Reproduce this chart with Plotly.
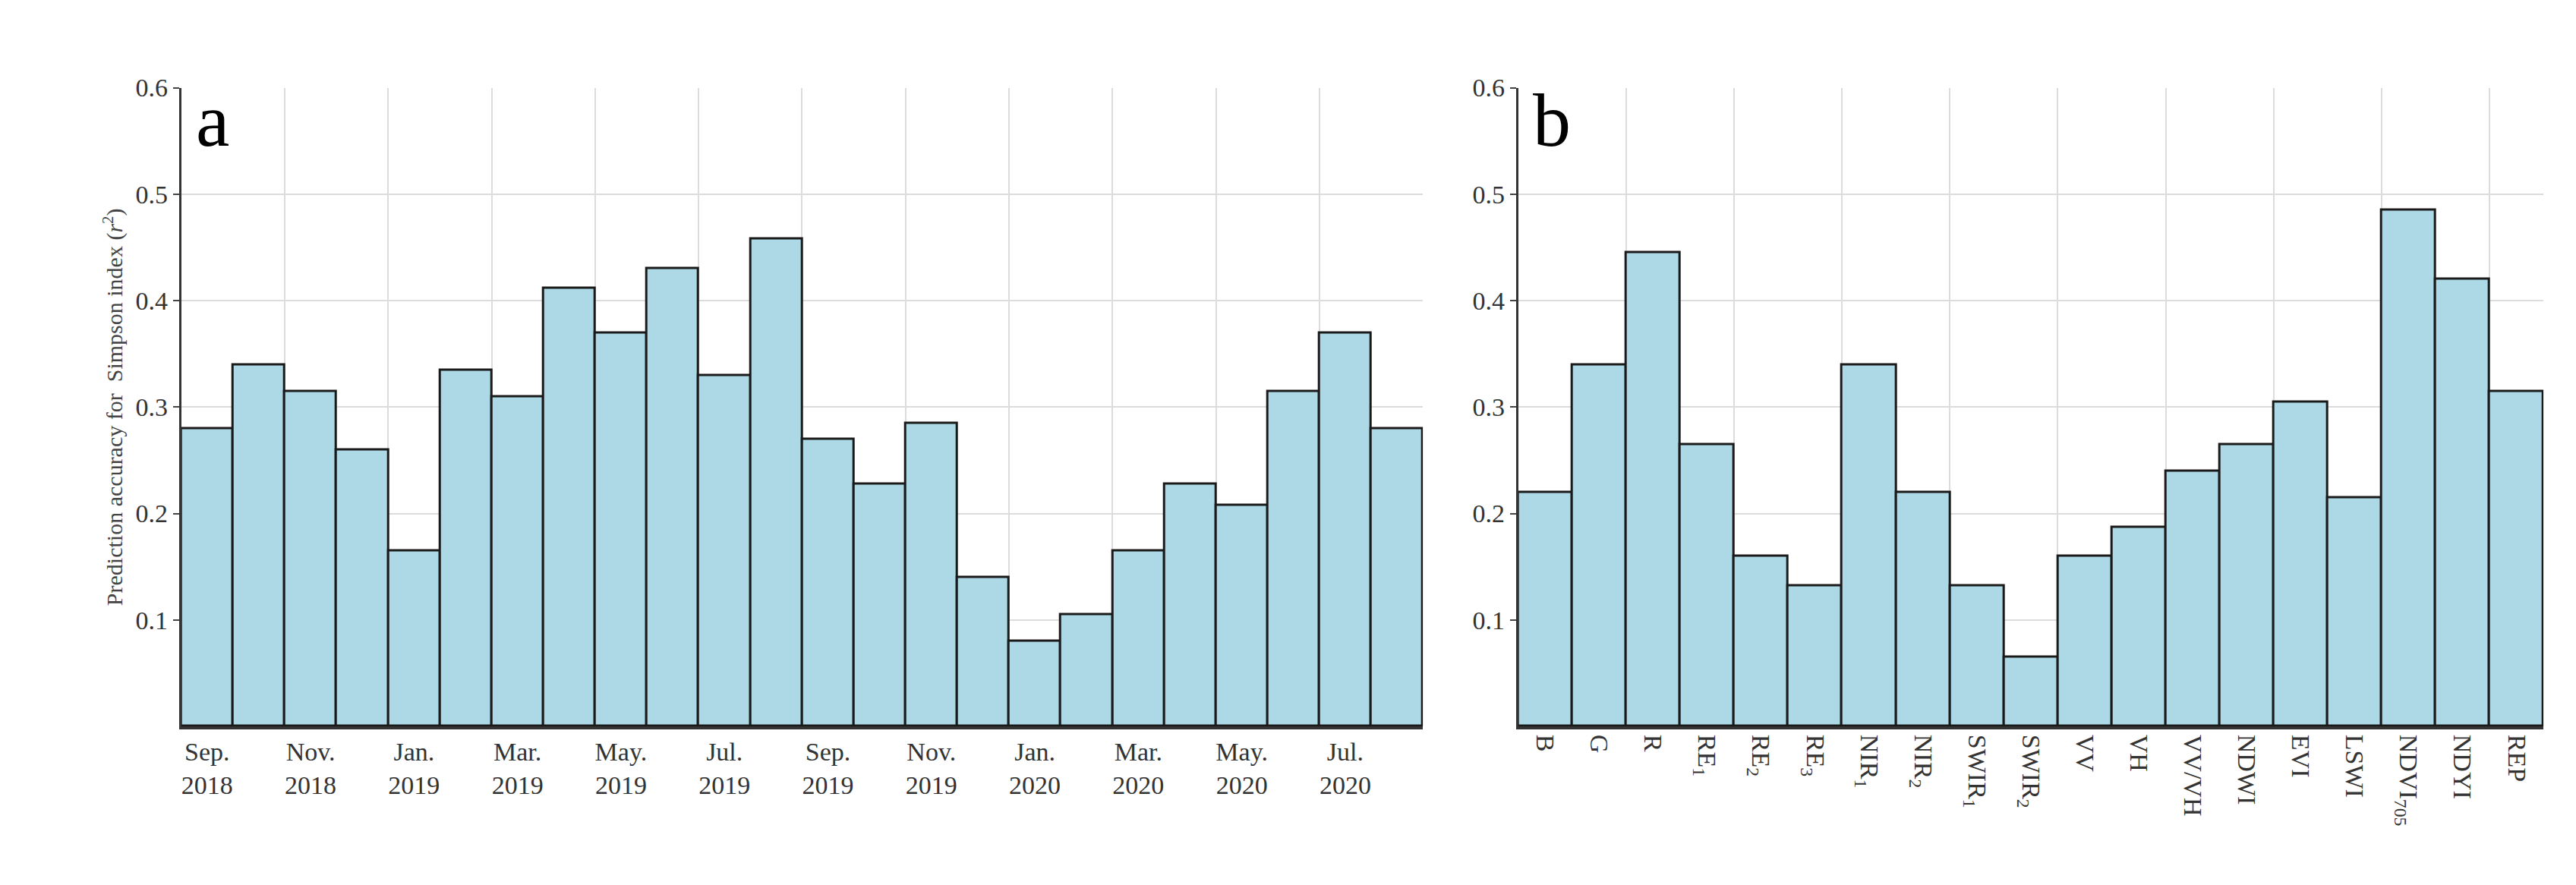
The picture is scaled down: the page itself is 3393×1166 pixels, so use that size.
import plotly.graph_objects as go

months = ["Sep. 2018","Oct. 2018","Nov. 2018","Dec. 2018","Jan. 2019","Feb. 2019","Mar. 2019","Apr. 2019",
          "May. 2019","Jun. 2019","Jul. 2019","Aug. 2019","Sep. 2019","Oct. 2019","Nov. 2019","Dec. 2019",
          "Jan. 2020","Feb. 2020","Mar. 2020","Apr. 2020","May. 2020","Jun. 2020","Jul. 2020","Aug. 2020"]
vals_a = [0.28,0.34,0.315,0.26,0.165,0.335,0.31,0.412,0.37,0.43,0.33,0.458,0.27,0.228,0.285,0.14,
          0.08,0.105,0.165,0.228,0.208,0.315,0.37,0.28]
features = ["B","G","R","RE<sub>1</sub>","RE<sub>2</sub>","RE<sub>3</sub>","NIR<sub>1</sub>","NIR<sub>2</sub>",
            "SWIR<sub>1</sub>","SWIR<sub>2</sub>","VV","VH","VV/VH","NDWI","EVI","LSWI","NDVI<sub>705</sub>","NDYI","REP"]
vals_b = [0.22,0.34,0.445,0.265,0.16,0.132,0.34,0.22,0.132,0.065,0.16,0.187,0.24,0.265,0.305,0.215,0.485,0.42,0.315]
yticks = [0.1,0.2,0.3,0.4,0.5,0.6]

fill = "#add8e6"
fig = go.Figure()
xa = list(range(len(months)))
xb = list(range(len(features)))
fig.add_trace(go.Bar(x=xa, y=vals_a, width=1, marker=dict(color=fill, line=dict(color="#1a1a1a", width=3)),
                     xaxis="x", yaxis="y", showlegend=False))
fig.add_trace(go.Bar(x=xb, y=vals_b, width=1, marker=dict(color=fill, line=dict(color="#1a1a1a", width=3)),
                     xaxis="x2", yaxis="y2", showlegend=False))

font = dict(family="Liberation Serif", size=34, color="#333")
lbl_a = [m.replace(" ", "<br>") if i % 2 == 0 else "" for i, m in enumerate(months)]
common_x = dict(showgrid=False, showline=True, linecolor="#333", linewidth=4, ticks="", tickfont=font,
                minor=dict(tick0=-0.5, dtick=2, showgrid=True, gridcolor="#dcdcdc", gridwidth=1.5), zeroline=False)
common_y = dict(range=[0, 0.6], tickvals=yticks, ticktext=[f"{v:.1f}" for v in yticks], showgrid=True,
                gridcolor="#dcdcdc", gridwidth=1.5, showline=True, linecolor="#333", linewidth=3,
                ticks="outside", ticklen=8, tickwidth=2, tickfont=font, zeroline=False)
fig.update_layout(
    width=3393, height=1166, plot_bgcolor="white", paper_bgcolor="white", bargap=0,
    margin=dict(l=0, r=0, t=0, b=0),
    xaxis=dict(domain=[0.068, 0.55], range=[-0.5, 23.5], tickvals=xa, ticktext=lbl_a, tickangle=0, anchor="y", **common_x),
    yaxis=dict(domain=[0.189, 0.922], anchor="x",
               title=dict(text="Prediction accuracy for  Simpson index (<i>r</i><sup>2</sup>)",
                          font=dict(family="Liberation Serif", size=30, color="#444"), standoff=8), **common_y),
    xaxis2=dict(domain=[0.587, 0.985], range=[-0.5, 18.5], tickvals=xb, ticktext=features, tickangle=90, anchor="y2", **common_x),
    yaxis2=dict(domain=[0.189, 0.922], anchor="x2", **common_y),
    annotations=[
        dict(text="a", x=0.073, y=0.935, xref="paper", yref="paper", xanchor="left", yanchor="top", showarrow=False,
             font=dict(family="Liberation Serif", size=100, color="black")),
        dict(text="b", x=0.592, y=0.935, xref="paper", yref="paper", xanchor="left", yanchor="top", showarrow=False,
             font=dict(family="Liberation Serif", size=100, color="black")),
    ],
)
fig.write_html("out.html")
